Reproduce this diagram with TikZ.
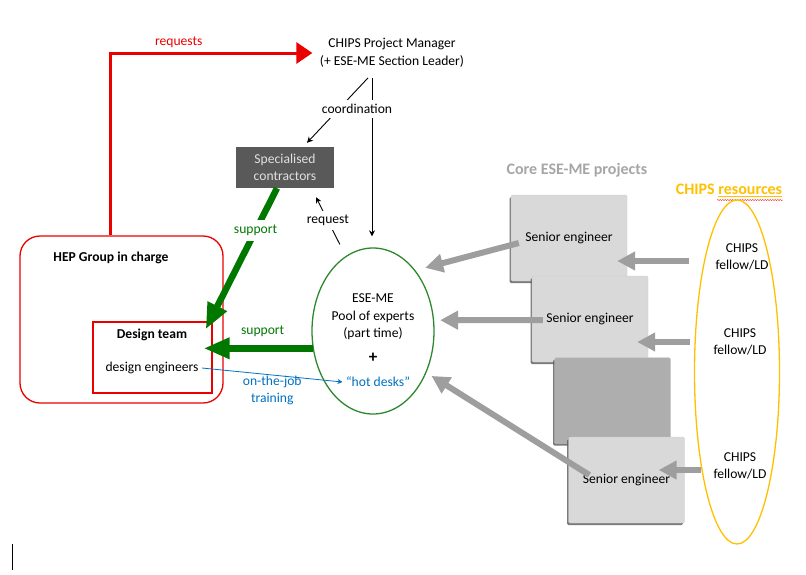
\documentclass[tikz,border=0pt]{standalone}
\usepackage{fontspec}
\setmainfont{Carlito}
\usetikzlibrary{arrows.meta,calc,shapes.geometric,shadows,decorations.pathmorphing}

\definecolor{hepred}{RGB}{235,0,0}
\definecolor{supgreen}{RGB}{0,120,0}
\definecolor{poolgreen}{RGB}{45,135,45}
\definecolor{jobblue}{RGB}{0,112,192}
\definecolor{chipsgold}{RGB}{255,192,0}
\definecolor{arrowgray}{RGB}{158,158,158}
\definecolor{coregray}{RGB}{166,166,166}
\definecolor{boxgray}{RGB}{217,217,217}
\definecolor{darkbox}{RGB}{174,174,174}
\definecolor{contractgray}{RGB}{89,89,89}

\begin{document}
\begin{tikzpicture}[x=1pt, y=-1pt, font=\fontsize{13.6}{17.5}\selectfont,
    every node/.style={align=center},
    bigfont/.style={font=\fontsize{16}{18}\selectfont\bfseries},
    thinarrow/.style={-{Stealth[length=6pt,width=6pt]}, line width=0.9pt},
    greenarrow/.style={supgreen, line width=6.5pt, -{Triangle[length=26pt,width=20pt]}},
    grayarrow/.style={arrowgray, line width=6pt, -{Triangle[length=18pt,width=18pt]}},
    redbox/.style={draw=hepred, line width=1.3pt},
    seniorbox/.style={fill=boxgray, draw=black!20, line width=0.4pt, rounded corners=1.5pt,
        minimum width=116, minimum height=86,
        drop shadow={shadow xshift=-1.5pt, shadow yshift=-2pt, fill=black!65, opacity=0.8}}]
    \useasboundingbox (0,0) rectangle (806,574);

    % Manager and contractors
    \node (pm) at (392,53) {CHIPS Project Manager\\(+ ESE-ME Section Leader)};
    \node[fill=contractgray, text=white!88!black, minimum width=98, minimum height=41,
        font=\fontsize{13.6}{17}\selectfont] (sc) at (285,167.5) {Specialised\\contractors};

    % HEP group and design team
    \node[redbox, rounded corners=20pt, minimum width=203, minimum height=167] (hep) at (121.5,319.5) {};
    \node[font=\fontsize{13.6}{17}\selectfont\bfseries] (heptitle) at (111,258) {HEP Group in charge};
    \node[redbox, minimum width=119, minimum height=71] (dt) at (152.5,357.5) {};
    \node[font=\fontsize{13.6}{17}\selectfont\bfseries] (dttitle) at (152,335) {Design team};
    \node (de) at (152,368) {design engineers};

    % Pool of experts
    \node[draw=poolgreen, line width=1.3pt, ellipse, minimum width=122, minimum height=166, inner sep=0pt] (pool) at (373,331) {};
    \node (pooltxt) at (373,317) {ESE-ME\\Pool of experts\\(part time)};
    \node[font=\fontsize{17}{18}\selectfont\bfseries] (plus) at (373,358) {+};
    \node[text=jobblue] (hd) at (378,382) {“hot desks”};

    % Core projects
    \node[bigfont, text=coregray] (core) at (577,170) {Core ESE-ME projects};
    \node[seniorbox] (se1) at (569,238) {Senior engineer};
    \node[seniorbox] (se2) at (590,319) {Senior engineer};
    \node[seniorbox, fill=darkbox] (se3) at (612.5,400.5) {};
    \node[seniorbox] (se4) at (626.5,480) {Senior engineer};

    % CHIPS resources
    \node[bigfont, text=chipsgold] (res) at (729,190) {CHIPS \underline{resources}};
    \draw[red, line width=0.4pt, decorate, decoration={snake, amplitude=0.5pt, segment length=2.5pt}] (717,200) -- (783,200);
    \node[draw=chipsgold, line width=1.3pt, ellipse, minimum width=85, minimum height=344, inner sep=0pt] (chips) at (737,372) {};
    \node (f1) at (742,257) {CHIPS\\fellow/LD};
    \node (f2) at (740,342) {CHIPS\\fellow/LD};
    \node (f3) at (740,466) {CHIPS\\fellow/LD};

    % Requests
    \draw[hepred, line width=3pt, -{Triangle[length=16pt,width=21pt]}] ($(hep.north)+(-11.5,0)$) |- ($(pm.west)+(-4,0)$)
        node[pos=0.67, above] {requests};

    % Coordination
    \draw[thinarrow] ($(pm.south)+(-24,7)$) -- ($(sc.north)+(22,-4)$);
    \draw[thinarrow] ($(pm.south -| pool.north)+(-1,7)$) -- ($(pool.north)+(-1,-11)$);
    \node[fill=white, inner sep=4pt] (coord) at (357,109) {coordination};

    % Request and support
    \draw[thinarrow, shorten <=13pt] (pool.110) -- node[pos=0.6, fill=white, inner sep=4pt] (req) {request} ($(sc.south)+(31,9)$);
    \draw[greenarrow] ($(sc.south)+(-8,0)$) -- node[pos=0.3, fill=white, inner sep=5pt] (sup1) {support} ($(dt.north east)+(-7,8)$);
    \draw[greenarrow, shorten >=-9pt] (pool.196) -- (pool.196 -| dt.east) node[midway, above=5pt] (sup2) {support};

    % Training
    \draw[jobblue, line width=0.8pt, -{Stealth[length=5pt,width=5pt]}] (de.east) -- (hd.west)
        node[midway, below, yshift=3pt] (train) {on-the-job\\training};

    % Senior engineers into the pool
    \draw[grayarrow, shorten >=10pt] ($(se1.west)+(8,5)$) -- (pool.55);
    \draw[grayarrow, shorten >=6pt] ($(se2.west)+(11,1)$) -- (pool.10);
    \draw[grayarrow, shorten >=6pt] ($(se4.west)+(21,-5)$) -- (pool.322);

    % Fellows into the projects
    \draw[grayarrow, shorten >=-10pt] ($(f1.west)+(-23,4)$) -- ($(se1.east)+(0,23)$);
    \draw[grayarrow, shorten >=-11pt] ($(f2.west)+(-20,0)$) -- (f2.west -| se2.east);
    \draw[grayarrow, shorten >=-26pt] ($(f3.west)+(-9,4)$) -- ($(se4.east)+(0,-10)$);

    % cursor mark
    \draw[line width=1pt] (12,544) -- (12,570);
\end{tikzpicture}
\end{document}
